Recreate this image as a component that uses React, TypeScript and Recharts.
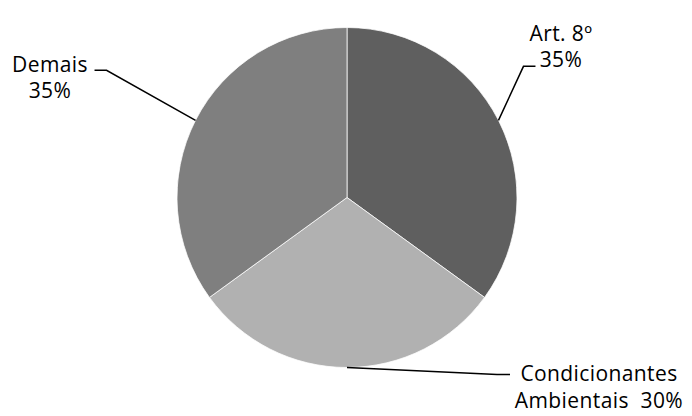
import React from "react";
import { PieChart, Pie, Cell } from "recharts";

const categories = ["Art. 8º", "Condicionantes Ambientais", "Demais"];
const values = [35, 30, 35];
const labelLines = [["Art. 8º", "35%"], ["Condicionantes", "Ambientais  30%"], ["Demais", "35%"]];

const colors = ["#5f5f5f", "#b1b1b1", "#7f7f7f"];

// leader-line layout: elbow & end relative offsets, text anchor
const layout = [
  { elbow: [25, -54], end: [37, -54], tx: 561, ty: [41, 67] },
  { elbow: [150, 7], end: [163, 7], tx: 599, ty: [381, 408] },
  { elbow: [-89, -50], end: [-101, -50], tx: 50, ty: [72, 98] },
];

const data = categories.map((c, i) => ({ name: c, value: values[i] }));

const RADIAN = Math.PI / 180;

const renderLabel = (props: any) => {
  const { cx, cy, midAngle, outerRadius, index } = props;
  const ex = cx + outerRadius * Math.cos(-midAngle * RADIAN);
  const ey = cy + outerRadius * Math.sin(-midAngle * RADIAN);
  const L = layout[index];
  const bx = ex + L.elbow[0];
  const by = ey + L.elbow[1];
  const fx = ex + L.end[0];
  const fy = ey + L.end[1];
  return (
    <g key={`lbl-${index}`}>
      <polyline
        points={`${ex},${ey} ${bx},${by} ${fx},${fy}`}
        fill="none"
        stroke="#000"
        strokeWidth={1.5}
      />
      {labelLines[index].map((t, j) => (
        <text
          key={j}
          x={L.tx}
          y={L.ty[j]}
          textAnchor="middle"
          fill="#000"
          fontSize={21}
          letterSpacing={0.4}
          fontFamily="'Open Sans', sans-serif"
          style={{ whiteSpace: "pre" }}
        >
          {t}
        </text>
      ))}
    </g>
  );
};

export default function App() {
  return (
    <div style={{ position: "absolute", left: 0, top: 0, width: 692, height: 416, background: "#fff" }}>
      <PieChart width={692} height={416} margin={{ top: 0, right: 0, bottom: 0, left: 0 }}>
        <Pie
          data={data}
          dataKey="value"
          nameKey="name"
          cx={347}
          cy={197.5}
          outerRadius={170}
          startAngle={90}
          endAngle={-270}
          stroke="#ffffff"
          strokeWidth={0.75}
          label={renderLabel}
          labelLine={false}
          isAnimationActive={false}
        >
          {data.map((d, i) => (
            <Cell key={d.name} fill={colors[i]} />
          ))}
        </Pie>
      </PieChart>
    </div>
  );
}
